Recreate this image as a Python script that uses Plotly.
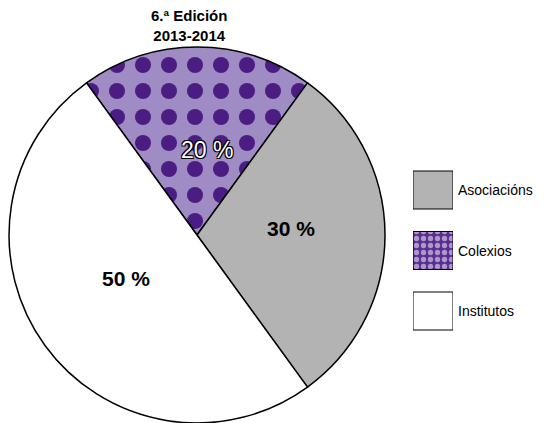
import math
import plotly.graph_objects as go

# ---- data ----
labels = ["Colexios", "Asociacións", "Institutos"]
values = [20, 30, 50]
pct_text = ["20 %", "30 %", "50 %"]
legend_order = ["Asociacións", "Colexios", "Institutos"]
subtitle = "6.ª Edición<br>2013-2014"

# ---- styles ----
W, H = 544, 423
FONT = "Arial, Liberation Sans, sans-serif"
fill = {"Colexios": "#a08cc4", "Asociacións": "#b3b3b3", "Institutos": "#ffffff"}
pattern_shape = {"Colexios": ".", "Asociacións": "", "Institutos": ""}
DARK_PURPLE = "#4b1d82"
# label nudges (pixels) relative to the mid-angle anchor
label_radius = {"Colexios": 0.45, "Asociacións": 0.5, "Institutos": 0.45}
label_nudge = {"Colexios": (10, 0), "Asociacións": (0, -6), "Institutos": (-3, -6)}

# pie geometry (pixels)
px_left, px_right, px_top = 9, 385, 47
diam = px_right - px_left
cx_px = (px_left + px_right) / 2
cy_px = px_top + diam / 2
r_px = diam / 2
rotation = -36

fig = go.Figure()
fig.add_trace(go.Pie(
    labels=labels, values=values, sort=False, direction="clockwise",
    rotation=rotation, textinfo="none", hoverinfo="label+percent",
    showlegend=False,
    domain=dict(x=[px_left / W, px_right / W], y=[0, diam / H]),
    marker=dict(
        colors=[fill[l] for l in labels],
        line=dict(color="black", width=1.5),
        pattern=dict(shape=[pattern_shape[l] for l in labels],
                     fgcolor=DARK_PURPLE, size=26, solidity=0.3,
                     fillmode="replace",
                     bgcolor=[fill[l] for l in labels]),
    ),
))

# percentage labels placed at slice mid-angles
total = sum(values)
cum = 0
for lab, v, t in zip(labels, values, pct_text):
    mid = rotation + (cum + v / 2) / total * 360
    cum += v
    th = math.radians(mid)
    rr = label_radius[lab] * r_px
    x_px = cx_px + rr * math.sin(th) + label_nudge[lab][0]
    y_px = cy_px - rr * math.cos(th) + label_nudge[lab][1]
    if lab == "Colexios":
        font = dict(family=FONT, size=23, color="white",
                    shadow="-1px -1px 0 #000, 1px -1px 0 #000, -1px 1px 0 #000, 1px 1px 0 #000")
    else:
        font = dict(family=FONT, size=21, color="black", weight="bold")
    fig.add_annotation(x=x_px / W, y=1 - y_px / H, xref="paper", yref="paper",
                       text=t, showarrow=False, font=font,
                       xanchor="center", yanchor="middle")

# subtitle
fig.add_annotation(x=189 / W, y=1 - 26 / H, xref="paper", yref="paper",
                   text=subtitle, showarrow=False,
                   font=dict(family=FONT, size=15, color="black", weight="bold"),
                   xanchor="center", yanchor="middle")

# custom legend: large swatches drawn as bars on a hidden axis
box_top0, box_step, box_size = 171, 60.5, 38
tops = [box_top0 + i * box_step for i in range(len(legend_order))]
swatch_bg = {"Colexios": "#5a2d91", "Asociacións": "#b3b3b3", "Institutos": "#ffffff"}
fig.add_trace(go.Bar(
    x=[0.5] * len(legend_order), y=[box_size] * len(legend_order), base=tops,
    width=1, xaxis="x", yaxis="y", showlegend=False, hoverinfo="skip",
    marker=dict(
        color=[swatch_bg[l] for l in legend_order],
        line=dict(color="black", width=1),
        pattern=dict(shape=[pattern_shape[l] for l in legend_order],
                     fgcolor="#f4f0fa", size=7, solidity=0.45,
                     fillmode="overlay"),
    ),
))
for l, tp in zip(legend_order, tops):
    fig.add_annotation(x=456 / W, y=1 - (tp + box_size / 2) / H,
                       xref="paper", yref="paper", text=l, showarrow=False,
                       font=dict(family=FONT, size=14, color="black"),
                       xanchor="left", yanchor="middle")

y_lo, y_hi = 165, 340
fig.update_layout(
    width=W, height=H, margin=dict(l=0, r=0, t=0, b=0),
    paper_bgcolor="white", plot_bgcolor="rgba(0,0,0,0)",
    barmode="overlay",
    xaxis=dict(domain=[413 / W, 453 / W], range=[0, 1], visible=False, fixedrange=True),
    yaxis=dict(domain=[1 - y_hi / H, 1 - y_lo / H], range=[y_hi, y_lo], visible=False, fixedrange=True),
)

fig.write_html("out.html")
